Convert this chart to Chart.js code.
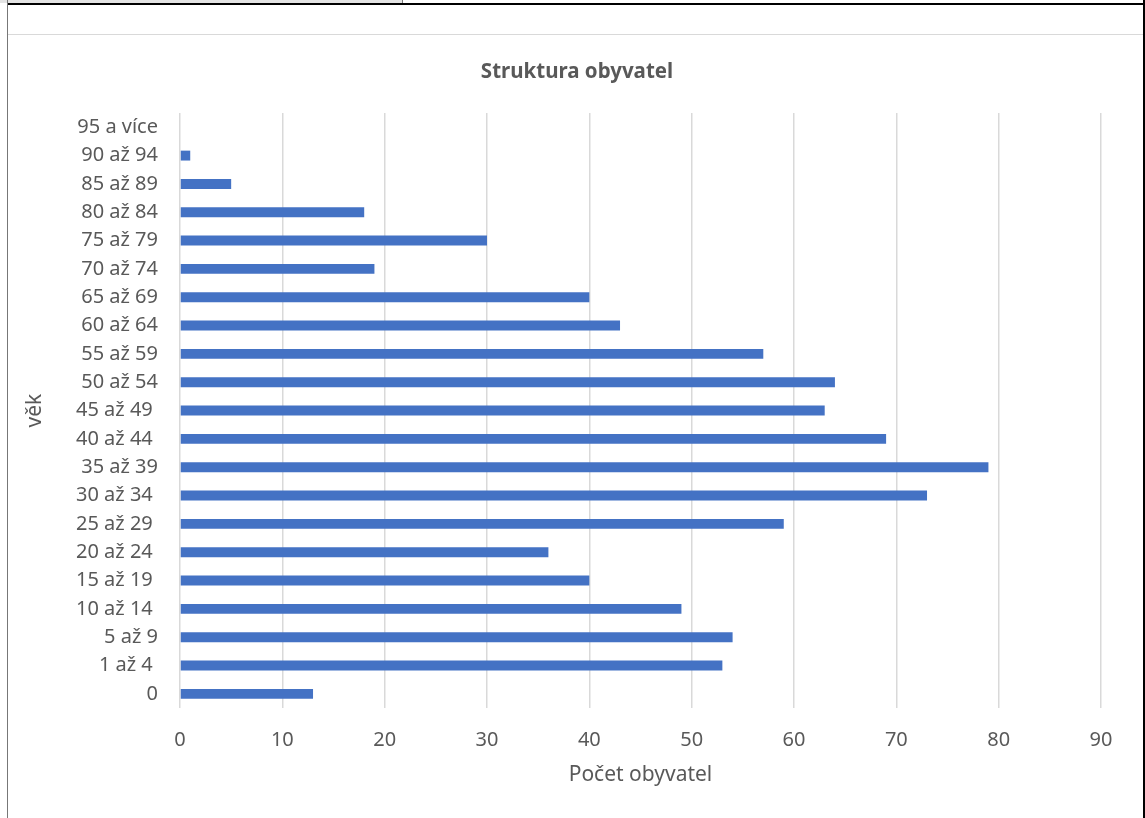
<!DOCTYPE html>
<html>
<head>
<meta charset="utf-8">
<script src="https://cdn.jsdelivr.net/npm/chart.js@4/dist/chart.umd.min.js"></script>
<style>
  html, body { margin: 0; padding: 0; background: #fff; }
  body { width: 1145px; height: 818px; position: relative; overflow: hidden; }
  #wrap { position: absolute; left: 0; top: 0; width: 1145px; height: 818px; }
  .ln { position: absolute; }
</style>
</head>
<body>
<div class="ln" style="left:0;top:0;width:402px;height:3px;background:#e3e3e3;"></div>
<div class="ln" style="left:402px;top:0;width:1px;height:4px;background:#777;"></div>
<div class="ln" style="left:7px;top:3px;width:1138px;height:2px;background:#000;"></div>
<div class="ln" style="left:7px;top:0;width:1px;height:818px;background:#777;"></div>
<div class="ln" style="left:1143px;top:0;width:2px;height:818px;background:#000;"></div>
<div class="ln" style="left:8px;top:34px;width:1135px;height:1px;background:#d9d9d9;"></div>
<div id="wrap"><canvas id="c" width="1145" height="818"></canvas></div>
<script>
const categories = ["0", "1 až 4 ", "5 až 9", "10 až 14 ", "15 až 19 ", "20 až 24 ", "25 až 29 ", "30 až 34 ", "35 až 39", "40 až 44 ", "45 až 49 ", "50 až 54", "55 až 59", "60 až 64", "65 až 69", "70 až 74", "75 až 79", "80 až 84", "85 až 89", "90 až 94", "95 a více"];
const population = [13, 53, 54, 49, 40, 36, 59, 73, 79, 69, 63, 64, 57, 43, 40, 19, 30, 18, 5, 1, 0];
const xTicksMin = 0, xTicksMax = 90, xTicksStep = 10;
const chartTitle = "Struktura obyvatel";
const xTitle = "Počet obyvatel";
const yTitle = "věk";

const FONT = "'Noto Sans', sans-serif";
const TXT = "#595959";

new Chart(document.getElementById('c'), {
  type: 'bar',
  data: {
    labels: categories,
    datasets: [{
      data: population,
      backgroundColor: '#4472C4',
      borderWidth: 0,
      barPercentage: 0.35,
      categoryPercentage: 1.0
    }]
  },
  options: {
    indexAxis: 'y',
    responsive: false,
    animation: false,
    devicePixelRatio: 1,
    layout: { padding: { left: 53, right: 44, top: 0, bottom: 0 } },
    plugins: {
      legend: { display: false },
      tooltip: { enabled: false },
      title: {
        display: true,
        text: chartTitle,
        color: TXT,
        font: { family: FONT, size: 20.5, weight: 'bold' },
        padding: { top: 60, bottom: 28.5 }
      }
    },
    scales: {
      x: {
        min: xTicksMin, max: xTicksMax,
        ticks: { stepSize: xTicksStep, color: TXT, font: { family: FONT, size: 20 }, padding: 20 },
        grid: { color: '#d9d9d9', lineWidth: 1.5, drawTicks: false },
        border: { display: false },
        title: { display: true, text: xTitle, color: TXT, font: { family: FONT, size: 21 }, padding: { top: 0, bottom: 30 } },
        afterFit: (s) => { s.height = 110; }
      },
      y: {
        reverse: true,
        ticks: { color: TXT, font: { family: FONT, size: 20 }, padding: 22, autoSkip: false },
        grid: { display: false, drawTicks: false },
        border: { display: false },
        title: { display: true, text: yTitle, color: TXT, font: { family: FONT, size: 21 }, padding: { top: -31, bottom: 4 } },
        afterFit: (s) => { s.width = 127; }
      }
    }
  }
});
</script>
</body>
</html>
